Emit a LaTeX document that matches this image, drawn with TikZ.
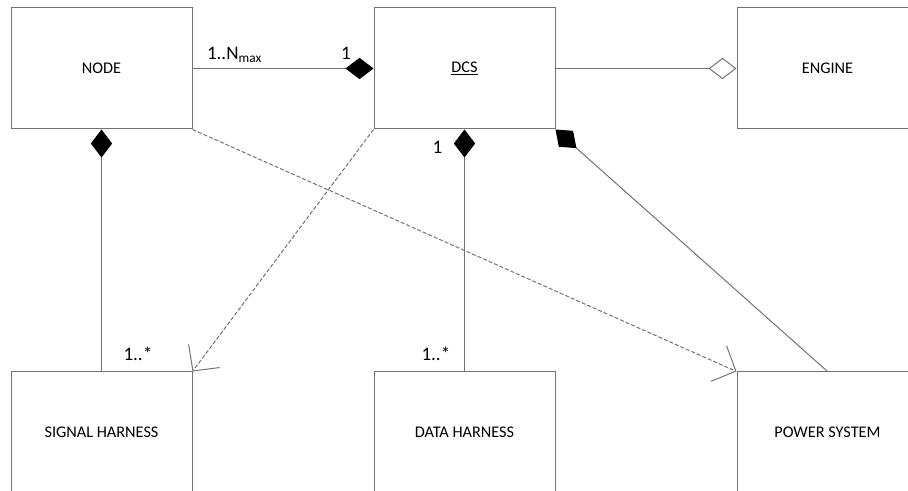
\documentclass[tikz,border=0pt]{standalone}
\usepackage{fontspec}
\setmainfont{Carlito}
\usepackage{tikz}
\usetikzlibrary{arrows.meta,positioning}

\begin{document}
\begin{tikzpicture}[x=0.75pt,y=0.75pt,line width=0.75pt,
  every node/.style={font=\fontsize{12.2}{14}\selectfont},
  block/.style={draw=black!55,minimum width=135.75pt,minimum height=90.75pt,inner sep=0pt},
  mult/.style={anchor=base west,inner sep=0pt,font=\fontsize{14.3}{16}\selectfont},
  composed/.style={draw=black!55,{Diamond[color=black,length=21pt,width=16pt]}-},
  aggregated/.style={draw=black!55,{Diamond[open,length=21pt,width=16pt]}-},
  depends/.style={draw=black!55,dash pattern=on 3pt off 1.5pt,-{Straight Barb[length=14pt,width=29pt]}}]
  \useasboundingbox (0,0) rectangle (908,491);
  % classes
  \node[block] (node) at (101.5,422.5) {NODE};
  \node[block] (dcs) at (464.5,422.5) {\underline{DCS}};
  \node[block] (engine) at (827.5,422.5) {ENGINE};
  \node[block] (signal) at (101.5,58.5) {SIGNAL HARNESS};
  \node[block] (data) at (464.5,58.5) {DATA HARNESS};
  \node[block] (power) at (827.5,58.5) {POWER SYSTEM};
  % associations
  \draw[composed] (dcs.west) -- (node.east);
  \draw[aggregated] (engine.west) -- (dcs.east);
  \draw[composed] (node.south) -- (signal.north);
  \draw[composed] (dcs.south) -- (data.north);
  \draw[composed] (dcs.south east) -- (power.north);
  \draw[depends] (node.south east) -- (power.north west);
  \draw[depends] (dcs.south west) -- (signal.north east);
  % multiplicities
  \node[mult] (mnode) at (206.5,431.7) {1..N\textsubscript{max}};
  \node[mult] (mdcs) at (340.5,431.7) {1};
  \node[mult] (mdcsdown) at (432,337.7) {1};
  \node[mult] (msignal) at (123,130) {1..*};
  \node[mult] (mdata) at (421,130) {1..*};
\end{tikzpicture}
\end{document}
